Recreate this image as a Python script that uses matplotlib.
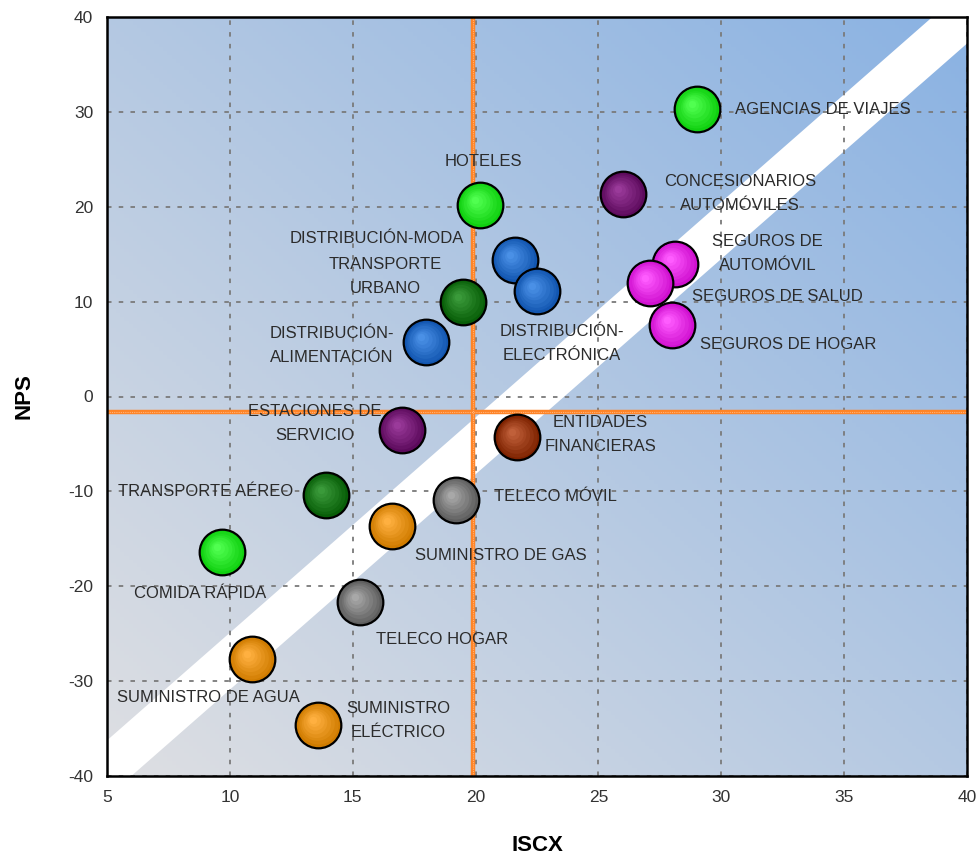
import numpy as np
import matplotlib.pyplot as plt
from matplotlib.colors import to_rgb
from matplotlib.transforms import ScaledTranslation

plt.rcParams['font.family'] = ['Liberation Sans', 'DejaVu Sans']
plt.rcParams['axes.unicode_minus'] = False

# Sectores: ISCX (eje x) y NPS (eje y)
sectores = ['AGENCIAS DE VIAJES', 'HOTELES', 'CONCESIONARIOS\nAUTOMÓVILES',
            'DISTRIBUCIÓN-MODA', 'TRANSPORTE\nURBANO', 'DISTRIBUCIÓN-\nELECTRÓNICA',
            'SEGUROS DE\nAUTOMÓVIL', 'SEGUROS DE SALUD', 'SEGUROS DE HOGAR',
            'DISTRIBUCIÓN-\nALIMENTACIÓN', 'ESTACIONES DE\nSERVICIO',
            'ENTIDADES\nFINANCIERAS', 'TELECO MÓVIL', 'TRANSPORTE AÉREO',
            'SUMINISTRO DE GAS', 'COMIDA RÁPIDA', 'TELECO HOGAR',
            'SUMINISTRO DE AGUA', 'SUMINISTRO\nELÉCTRICO']
iscx = [29.0, 20.2, 26.0, 21.6, 19.5, 22.5, 28.1, 27.1, 28.0, 18.0, 17.0,
        21.7, 19.2, 13.9, 16.6, 9.7, 15.3, 10.9, 13.6]
nps = [30.3, 20.2, 21.3, 14.4, 10.0, 11.1, 14.0, 12.0, 7.5, 5.7, -3.5,
       -4.3, -10.9, -10.4, -13.6, -16.4, -21.7, -27.7, -34.6]
grupo = ['verde', 'verde', 'morado', 'azul', 'verde_osc', 'azul', 'rosa',
         'rosa', 'rosa', 'azul', 'morado', 'marron', 'gris', 'verde_osc',
         'naranja', 'verde', 'gris', 'naranja', 'naranja']

# medias (lineas naranjas) y banda diagonal
media_iscx = 19.9
media_nps = -1.6
banda_pendiente = 2.27
banda_inf, banda_sup = -53.5, -47.5

# desplazamiento de cada etiqueta respecto a su burbuja (pixeles)
etiqueta_dx = [38, 3, 117, -138, -78, 25, 93, 127, 116, -95, -87, 83, 100,
               -120, 109, -22, 82, -44, 80]
etiqueta_dy = [0, 43, 1, 21, 25, -52, 10, -14, -19, -3, 6, 3, 3, 4, -30,
               -41, -37, -38, 4]

colores = {
    'verde': ('#10d010', '#50ff50'),
    'verde_osc': ('#085e08', '#3a9a3a'),
    'morado': ('#5c0a5c', '#9a3a9a'),
    'azul': ('#1256b0', '#4a90e6'),
    'rosa': ('#d010d0', '#ff5cff'),
    'marron': ('#7e2200', '#c0603a'),
    'gris': ('#5e5e5e', '#a8a8a8'),
    'naranja': ('#d07c00', '#ffb040'),
}

fig = plt.figure(figsize=(9.8, 8.56), dpi=100)
ax = fig.add_axes([107 / 980, 80 / 856, 860 / 980, 759 / 856])
ax.set_xlim(5, 40)
ax.set_ylim(-40, 40)

# fondo degradado gris -> azul
u, v = np.meshgrid(np.linspace(0, 1, 200), np.linspace(0, 1, 200))
t = (u + v) / 2
c0 = np.array([222, 223, 226]) / 255
c1 = np.array([138, 178, 226]) / 255
img = c0 + t[..., None] * (c1 - c0)
ax.imshow(img, extent=[0, 1, 0, 1], transform=ax.transAxes, origin='lower',
          aspect='auto', zorder=0)

# banda blanca
xb = np.linspace(5, 40, 50)
ax.fill_between(xb, banda_pendiente * xb + banda_inf,
                banda_pendiente * xb + banda_sup, color='white', lw=0, zorder=1)

ax.set_xticks(np.arange(5, 41, 5))
ax.set_yticks(np.arange(-40, 41, 10))
ax.grid(True, color='#7a7a7a', linestyle=(0, (2.5, 4)), lw=1.3)
ax.set_axisbelow('line')

ax.axvline(media_iscx, color='#ff8426', lw=3.2, zorder=2)
ax.axhline(media_nps, color='#ff8426', lw=3.2, zorder=2)
ax.axvline(media_iscx, color='#ffb27a', lw=0.8, ls=(0, (1, 1)), zorder=2.1)
ax.axhline(media_nps, color='#ffb27a', lw=0.8, ls=(0, (1, 1)), zorder=2.1)

# burbujas con efecto de esfera
tam = 1080
radio_pt = np.sqrt(tam) / 2
capas = 7
for i in range(len(sectores)):
    oscuro, claro = (np.array(to_rgb(c)) for c in colores[grupo[i]])
    ax.scatter(iscx[i], nps[i], s=tam, color=oscuro, edgecolor='black',
               lw=1.6, zorder=3 + i * 0.01)
    for k in range(1, capas + 1):
        f = k / capas
        col = oscuro + (claro - oscuro) * f
        desp = ScaledTranslation(-0.22 * f * radio_pt / 72,
                                 0.22 * f * radio_pt / 72, fig.dpi_scale_trans)
        ax.scatter(iscx[i], nps[i], s=tam * (0.86 - 0.72 * f) ** 2 / 0.74,
                   color=col, lw=0, transform=ax.transData + desp,
                   zorder=3 + i * 0.01 + k * 0.0001)
    ax.annotate(sectores[i], (iscx[i], nps[i]),
                xytext=(etiqueta_dx[i], etiqueta_dy[i]), textcoords='offset pixels',
                ha='left' if i == 0 else 'center', va='center', fontsize=12,
                color='#2b2b2b', linespacing=1.75, zorder=10)

for s in ax.spines.values():
    s.set_color('black')
    s.set_linewidth(1.8)
    s.set_zorder(11)

ax.tick_params(length=0, labelsize=12.5, labelcolor='#333333', pad=10)
ax.set_xlabel('ISCX', fontsize=16, fontweight='bold', labelpad=22)
ax.set_ylabel('NPS', fontsize=16, fontweight='bold', labelpad=24)

fig.savefig('out.png', dpi=100)
